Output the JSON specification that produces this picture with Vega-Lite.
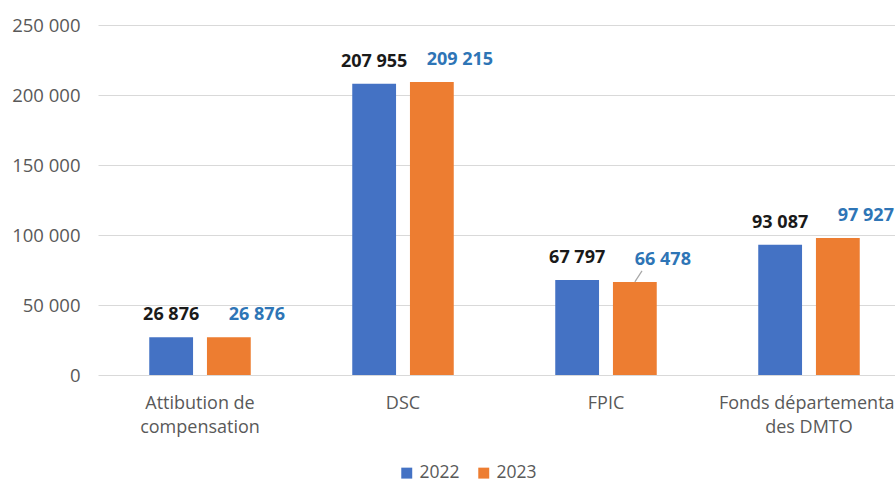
{
  "$schema": "https://vega.github.io/schema/vega-lite/v6.json",
  "width": 797,
  "height": 350,
  "autosize": {"type": "none"},
  "padding": {"left": 98, "top": 25, "right": 0, "bottom": 107},
  "background": "white",
  "config": {
    "locale": {"number": {"decimal": ",", "thousands": " ", "grouping": [3], "currency": ["", " €"]}},
    "font": "Open Sans",
    "view": {"stroke": null}
  },
  "data": {
    "values": [
      {"poste": "Attibution de compensation", "annee": "2022", "montant": 26876},
      {"poste": "Attibution de compensation", "annee": "2023", "montant": 26876},
      {"poste": "DSC", "annee": "2022", "montant": 207955},
      {"poste": "DSC", "annee": "2023", "montant": 209215},
      {"poste": "FPIC", "annee": "2022", "montant": 67797},
      {"poste": "FPIC", "annee": "2023", "montant": 66478},
      {"poste": "Fonds départemental des DMTO", "annee": "2022", "montant": 93087},
      {"poste": "Fonds départemental des DMTO", "annee": "2023", "montant": 97927}
    ]
  },
  "encoding": {
    "x": {
      "field": "poste", "type": "nominal", "sort": null,
      "scale": {"range": [0, 813], "paddingInner": 0.5, "paddingOuter": 0.2525},
      "axis": {
        "title": null, "domain": false, "ticks": false, "labelAngle": 0,
        "labelFontSize": 18, "labelColor": "#595959", "labelPadding": 19,
        "labelLineHeight": 24, "labelLimit": 0, "labelOverlap": false, "labelBaseline": "top",
        "labelExpr": "datum.value == 'Attibution de compensation' ? ['Attibution de', 'compensation'] : datum.value == 'Fonds départemental des DMTO' ? ['Fonds départemental', 'des DMTO'] : datum.value"
      }
    },
    "xOffset": {
      "field": "annee", "type": "nominal",
      "scale": {"domain": ["2022", "2023"], "paddingInner": 0.241, "paddingOuter": 0}
    },
    "y": {
      "field": "montant", "type": "quantitative",
      "scale": {"domain": [0, 250000], "nice": false},
      "axis": {
        "title": null, "domain": false, "ticks": false, "values": [0, 50000, 100000, 150000, 200000, 250000],
        "format": ",d", "labelFontSize": 18.5, "labelColor": "#595959", "labelPadding": 18,
        "gridColor": "#D9D9D9", "gridWidth": 1.2
      }
    }
  },
  "layer": [
    {
      "mark": {"type": "bar"},
      "encoding": {
        "color": {
          "field": "annee", "type": "nominal",
          "scale": {"domain": ["2022", "2023"], "range": ["#4472C4", "#ED7D31"]},
          "legend": {
            "title": null, "orient": "none", "direction": "horizontal",
            "legendX": 300, "legendY": 439, "symbolType": "square", "symbolSize": 120,
            "labelFontSize": 17.5, "labelColor": "#595959", "columnPadding": 15, "labelOffset": 4
          }
        }
      }
    },
    {
      "transform": [{"filter": "datum.annee == '2022'"}],
      "mark": {"type": "text", "fontSize": 18, "fontWeight": "bold", "color": "#1A1A1A", "baseline": "middle", "dy": -22},
      "encoding": {"text": {"field": "montant", "type": "quantitative", "format": ",d"}}
    },
    {
      "transform": [{"filter": "datum.annee == '2023'"}],
      "mark": {"type": "text", "fontSize": 18, "fontWeight": "bold", "color": "#2E75B6", "baseline": "middle", "dy": -22, "dx": 28},
      "encoding": {"text": {"field": "montant", "type": "quantitative", "format": ",d"}}
    },
    {
      "transform": [{"filter": "datum.annee == '2023' && datum.poste == 'FPIC'"}],
      "mark": {"type": "rule", "color": "#A6A6A6", "strokeWidth": 1.2, "x2Offset": 36, "y2Offset": -11},
      "encoding": {
        "x2": {"field": "poste"},
        "y2": {"field": "montant"}
      }
    }
  ]
}
